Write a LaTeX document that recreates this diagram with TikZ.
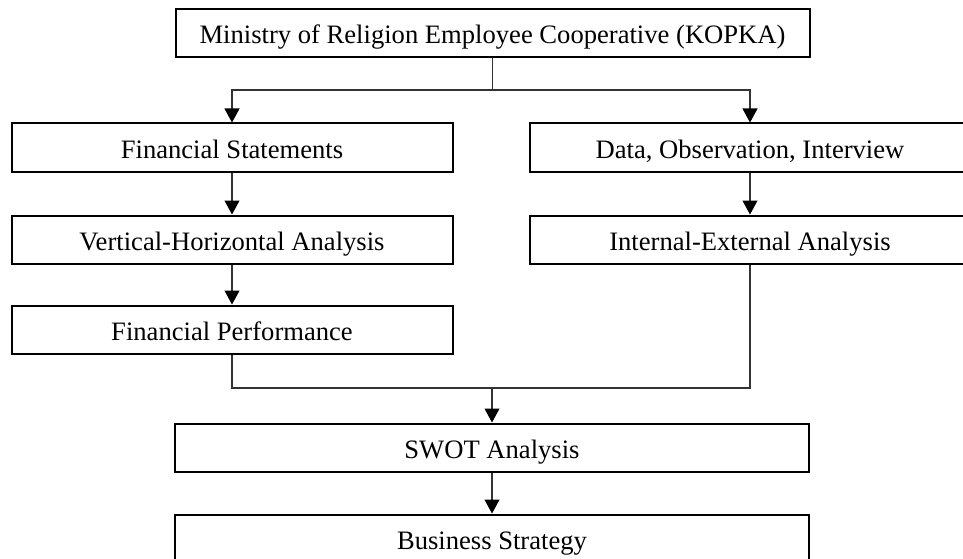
\documentclass[tikz,border=0pt]{standalone}
\usepackage{fontspec}
\setmainfont{Liberation Serif}
\usetikzlibrary{arrows.meta}

\tikzset{
  stepbox/.style={draw=black, line width=2pt, rectangle, inner sep=0pt,
    minimum height=48pt, text height=21pt, text depth=0pt,
    font=\fontsize{26.6pt}{30pt}\selectfont},
  wide/.style={stepbox, minimum width=634pt},
  half/.style={stepbox, minimum width=441pt},
  link/.style={draw=black!80, line width=1.1pt},
  flow/.style={link, -{Triangle[width=15pt,length=14pt,color=black]}}
}

\begin{document}
\begin{tikzpicture}[x=1pt, y=1pt]
  \useasboundingbox (0,0) rectangle (963,-559);
  \clip (0,0) rectangle (963,-559);

  % boxes
  \node[wide] (kopka) at (492.5,-33.5) {Ministry of Religion Employee Cooperative (KOPKA)};
  \node[half] (fs)   at (232,-147.5) {Financial Statements};
  \node[half] (vh)   at (232,-239.5) {Vertical-Horizontal Analysis};
  \node[half] (fp)   at (232,-329.5) {Financial Performance};
  \node[half] (doi)  at (750,-147.5) {Data, Observation, Interview};
  \node[half] (ie)   at (750,-239.5) {Internal-External Analysis};
  \node[wide] (swot) at (492,-447.5) {SWOT Analysis};
  \node[wide] (bs)   at (492,-538.5) {Business Strategy};

  % branching from the cooperative
  \coordinate (split) at (492.5,-90);
  \coordinate (merge) at (492,-388);
  \draw[link] (kopka.south) -- (split);
  \draw[flow] (split) -| (fs.north);
  \draw[flow] (split) -| (doi.north);

  % left column
  \draw[flow] (fs.south) -- (vh.north);
  \draw[flow] (vh.south) -- (fp.north);

  % right column
  \draw[flow] (doi.south) -- (ie.north);

  % joining into the SWOT analysis
  \draw[link] (fp.south) |- (merge);
  \draw[link] (ie.south) |- (merge);
  \draw[flow] (merge) -- (swot.north);
  \draw[flow] (swot.south) -- (bs.north);
\end{tikzpicture}
\end{document}
